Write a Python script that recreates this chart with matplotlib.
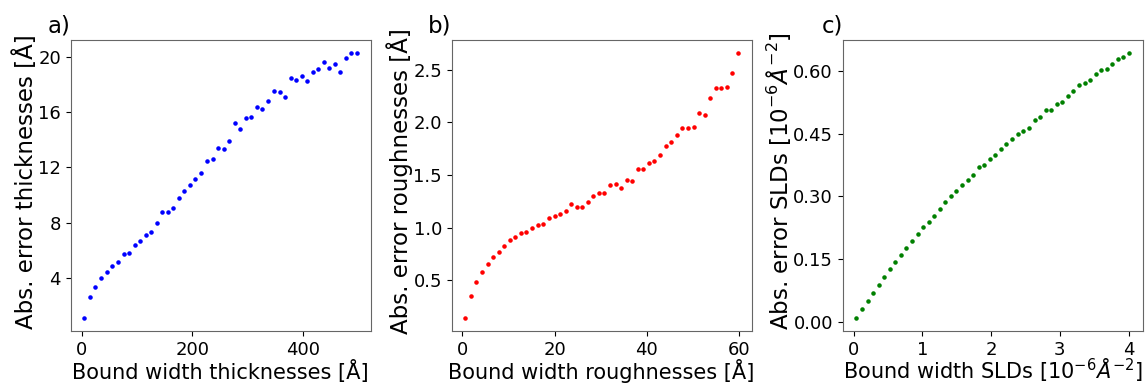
import matplotlib
matplotlib.use("Agg")
import matplotlib.pyplot as plt
from matplotlib.ticker import FormatStrFormatter

# a) thicknesses
thick_bound = [5, 15, 25, 36, 46, 56, 66, 76, 86, 96, 106, 116, 126, 136, 146, 156,
               166, 176, 186, 196, 206, 216, 227, 237, 247, 257, 267, 277, 287, 297,
               307, 318, 327, 338, 348, 358, 368, 378, 388, 398, 408, 418, 428, 438,
               448, 458, 468, 479, 488, 498]
thick_err = [1.13, 2.65, 3.37, 4.02, 4.48, 4.92, 5.18, 5.73, 5.86, 6.43, 6.67, 7.11, 7.33,
             8.02, 8.75, 8.77, 9.04, 9.83, 10.29, 10.72, 11.2, 11.59, 12.48, 12.63, 13.4,
             13.33, 13.9, 15.2, 14.75, 15.54, 15.64, 16.39, 16.24, 16.82, 17.52, 17.42,
             17.06, 18.48, 18.27, 18.63, 18.22, 18.87, 19.11, 19.57, 19.18, 19.45, 18.87,
             19.86, 20.22, 20.24]

# b) roughnesses
rough_bound = [0.65, 1.88, 3.04, 4.28, 5.51, 6.67, 7.9, 9.13, 10.29, 11.52, 12.75, 13.91,
               15.14, 16.38, 17.54, 18.77, 20.0, 21.16, 22.39, 23.62, 24.78, 26.01, 27.25,
               28.41, 29.64, 30.8, 32.03, 33.26, 34.42, 35.65, 36.81, 38.04, 39.28, 40.43,
               41.67, 42.9, 44.06, 45.29, 46.52, 47.68, 48.91, 50.14, 51.3, 52.54, 53.77,
               54.93, 56.16, 57.39, 58.55, 59.78]
rough_err = [0.139, 0.345, 0.478, 0.579, 0.649, 0.718, 0.766, 0.823, 0.883, 0.908, 0.946,
             0.962, 0.997, 1.028, 1.032, 1.089, 1.111, 1.133, 1.161, 1.228, 1.196, 1.196,
             1.247, 1.301, 1.326, 1.332, 1.405, 1.415, 1.380, 1.453, 1.443, 1.560, 1.560,
             1.617, 1.633, 1.690, 1.772, 1.810, 1.883, 1.946, 1.946, 1.959, 2.092, 2.066,
             2.228, 2.329, 2.329, 2.339, 2.465, 2.658]

# c) SLDs
sld_bound = [0.039, 0.121, 0.204, 0.282, 0.364, 0.447, 0.524, 0.607, 0.689, 0.767, 0.850,
             0.932, 1.010, 1.092, 1.175, 1.252, 1.335, 1.417, 1.495, 1.578, 1.660, 1.738,
             1.820, 1.903, 1.981, 2.063, 2.146, 2.223, 2.306, 2.388, 2.466, 2.549, 2.631,
             2.709, 2.791, 2.874, 2.951, 3.034, 3.117, 3.194, 3.277, 3.359, 3.437, 3.519,
             3.602, 3.680, 3.762, 3.845, 3.922, 4.005]
sld_err = [0.0087, 0.0294, 0.0492, 0.0683, 0.0873, 0.107, 0.126, 0.144, 0.160, 0.177,
           0.194, 0.210, 0.226, 0.238, 0.254, 0.270, 0.287, 0.300, 0.313, 0.326, 0.338,
           0.351, 0.370, 0.375, 0.390, 0.399, 0.414, 0.426, 0.436, 0.449, 0.456, 0.463,
           0.482, 0.490, 0.506, 0.506, 0.521, 0.526, 0.540, 0.552, 0.566, 0.570, 0.579,
           0.592, 0.601, 0.604, 0.615, 0.629, 0.633, 0.642]

panels = [
    ("a)", thick_bound, thick_err, "b", "Bound width thicknesses [Å]",
     "Abs. error thicknesses [Å]", [0, 200, 400], [4, 8, 12, 16, 20], "%d"),
    ("b)", rough_bound, rough_err, "r", "Bound width roughnesses [Å]",
     "Abs. error roughnesses [Å]", [0, 20, 40, 60], [0.5, 1.0, 1.5, 2.0, 2.5], "%.1f"),
    ("c)", sld_bound, sld_err, "g", r"Bound width SLDs [$10^{-6}Å^{-2}$]",
     r"Abs. error SLDs [$10^{-6}Å^{-2}$]", [0, 1, 2, 3, 4], [0.0, 0.15, 0.30, 0.45, 0.60], "%.2f"),
]

lefts = [0.0616, 0.3938, 0.7347]
ylab_x = [-0.125, -0.145, -0.182]

fig = plt.figure(figsize=(11.47, 3.84), dpi=100)

for left, lx, (tag, x, y, col, xl, yl, xt, yt, fmt) in zip(lefts, ylab_x, panels):
    ax = fig.add_axes([left, 0.137, 0.2615, 0.759])
    ax.plot(x, y, ".", color=col, markersize=4.5)
    ax.set_xticks(xt)
    ax.set_yticks(yt)
    ax.yaxis.set_major_formatter(FormatStrFormatter(fmt))
    ax.tick_params(labelsize=13)
    ax.set_xlabel(xl, fontsize=15, va="baseline")
    ax.xaxis.set_label_coords(0.5, -0.162)
    ax.set_ylabel(yl, fontsize=16.5, va="baseline")
    ax.yaxis.set_label_coords(lx, 0.515)
    for s in ax.spines.values():
        s.set_color("0.4")
    ax.text(0, 1.025, tag, transform=ax.transAxes, ha="right", va="baseline", fontsize=16.5)

fig.savefig("out.png", dpi=100)
